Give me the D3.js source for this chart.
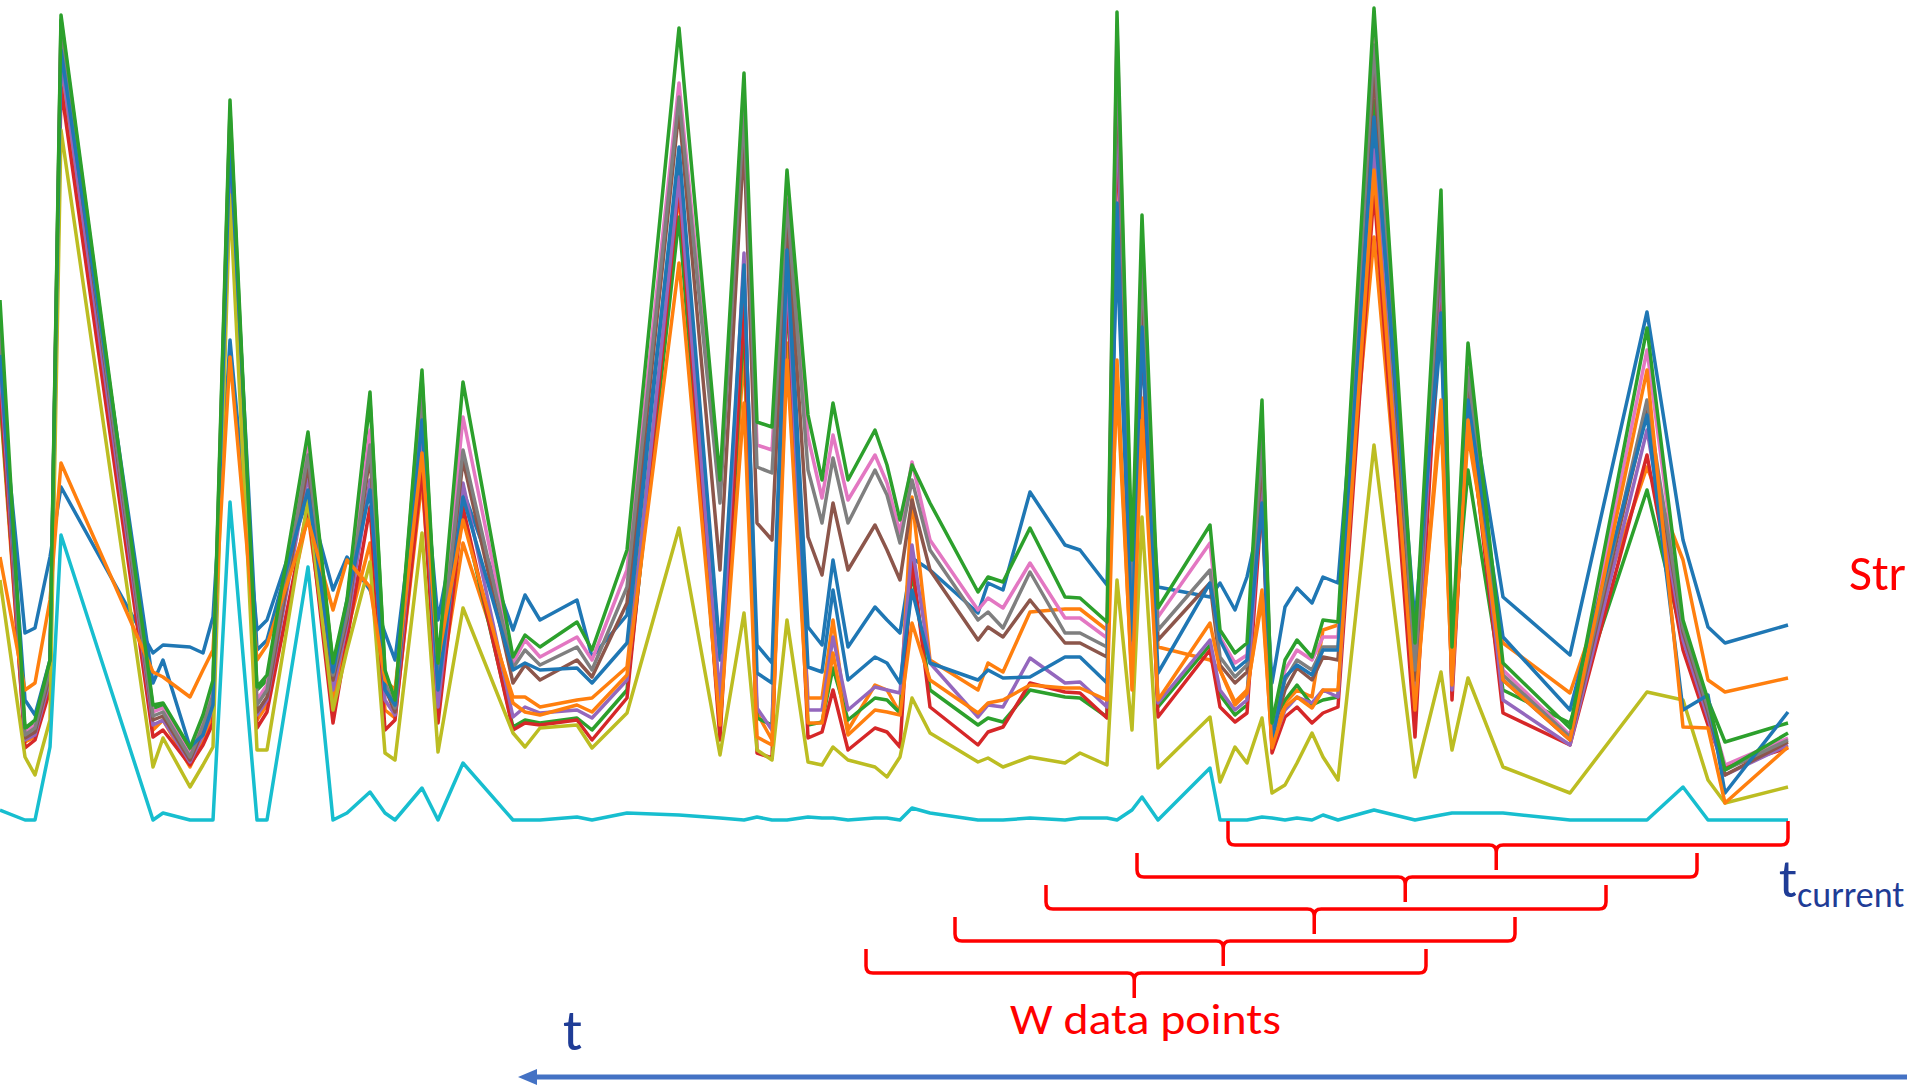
<!DOCTYPE html>
<html>
<head>
<meta charset="utf-8">
<script src="https://cdn.jsdelivr.net/npm/d3@7"></script>
<style>
  body { margin: 0; background: #fff; }
  svg { display: block; }
</style>
</head>
<body>
<div id="chart"></div>
<script>
// sample times (shared by every series)
const times = [0, 2.5, 3.5, 5.0, 6.1, 15.3, 16.3, 19.0, 20.3, 21.3, 23.0, 25.7, 26.7, 30.8, 33.3, 34.7, 37.0, 38.5, 39.5, 42.2,
  43.8, 46.3, 51.3, 52.5, 54.0, 57.7, 59.2, 62.7, 67.9, 72.0, 74.4, 75.7, 77.2, 78.7, 80.8, 82.2, 83.3, 84.8, 87.5, 88.7,
  90.0, 91.2, 93.0, 97.8, 98.8, 100.3, 103.0, 106.5, 108.0, 110.7, 111.7, 113.2, 114.2, 115.8, 121.0, 122.0, 123.5, 124.7, 126.2, 127.2,
  128.5, 129.7, 131.2, 132.3, 133.8, 137.4, 141.5, 144.1, 145.2, 146.8, 150.3, 157.0, 164.7, 168.3, 170.8, 172.5, 178.8];

const blue1 = [4.43, 1.87, 1.92, 2.63, 3.33, 1.67, 1.75, 1.73, 1.67, 2.03, 4.80, 1.90, 2.00, 3.23, 2.30, 2.63, 2.30, 1.87, 1.60, 3.80,
  2.00, 3.30, 1.90, 2.25, 2.00, 2.20, 1.63, 2.05, 6.60, 1.60, 5.40, 1.75, 1.57, 5.80, 1.93, 1.75, 2.60, 1.73, 2.13, 2.00,
  1.87, 2.62, 2.50, 2.07, 2.37, 2.30, 3.28, 2.75, 2.70, 2.35, 5.70, 1.70, 4.70, 2.33, 2.23, 2.37, 2.10, 2.43, 3.10, 1.37,
  2.13, 2.32, 2.17, 2.43, 2.37, 6.80, 1.80, 4.90, 1.60, 4.40, 2.23, 1.65, 5.08, 2.80, 1.93, 1.77, 1.95];
const orange1 = [4.20, 0.78, 0.83, 1.35, 7.43, 0.90, 1.00, 0.53, 0.80, 1.05, 6.55, 1.00, 1.15, 3.05, 1.20, 1.88, 2.77, 1.10, 1.02, 3.40,
  1.20, 2.77, 1.23, 1.23, 1.13, 1.20, 1.22, 1.53, 6.27, 1.00, 4.70, 1.07, 0.80, 4.77, 1.22, 1.22, 2.00, 0.90, 1.35, 1.30,
  1.07, 3.23, 1.60, 1.30, 1.57, 1.48, 2.08, 2.11, 2.11, 1.90, 4.33, 1.40, 4.22, 1.73, 1.60, 1.50, 1.18, 1.30, 2.20, 0.75,
  1.17, 1.30, 1.23, 1.90, 1.95, 5.83, 1.20, 4.03, 1.40, 3.85, 1.77, 1.27, 3.53, 2.60, 1.40, 1.28, 1.42];
const green1 = [4.25, 0.90, 0.98, 1.55, 8.00, 1.12, 1.14, 0.70, 1.02, 1.35, 7.10, 1.30, 1.40, 3.80, 1.55, 2.15, 4.20, 1.48, 1.18, 4.42,
  1.52, 3.07, 0.93, 1.00, 0.97, 1.02, 0.90, 1.30, 6.03, 0.90, 5.00, 1.02, 0.95, 5.30, 0.95, 0.98, 1.52, 1.00, 1.22, 1.20,
  1.07, 2.50, 1.30, 0.95, 1.02, 0.98, 1.30, 1.23, 1.22, 1.03, 7.50, 2.20, 5.70, 1.13, 1.75, 1.25, 1.05, 1.15, 4.00, 0.97,
  1.20, 1.35, 1.15, 1.20, 1.23, 7.20, 1.30, 5.90, 1.70, 3.50, 1.30, 0.97, 3.30, 1.80, 1.20, 0.78, 0.97];
const red = [4.35, 0.72, 0.80, 1.30, 7.33, 0.83, 0.90, 0.55, 0.75, 0.97, 6.45, 0.92, 1.08, 3.15, 0.97, 1.80, 3.13, 0.90, 1.00, 3.50,
  0.97, 3.13, 0.90, 0.97, 0.95, 1.00, 0.80, 1.22, 6.33, 0.80, 5.20, 0.67, 0.62, 5.40, 0.82, 0.88, 1.30, 0.70, 0.92, 0.88,
  0.73, 2.60, 1.13, 0.75, 0.88, 0.93, 1.37, 1.28, 1.27, 1.02, 7.10, 1.50, 5.00, 1.03, 1.70, 1.13, 0.98, 1.07, 3.20, 0.67,
  1.03, 1.13, 0.97, 1.07, 1.13, 6.30, 0.83, 5.40, 1.20, 4.15, 1.07, 0.75, 3.65, 1.70, 0.95, 0.53, 0.72];
const purple = [4.55, 0.80, 0.85, 1.40, 7.60, 0.95, 1.00, 0.58, 0.85, 1.12, 6.70, 1.05, 1.20, 3.45, 1.30, 1.95, 3.40, 1.20, 1.05, 3.90,
  1.13, 3.37, 1.03, 1.13, 1.07, 1.10, 1.02, 1.40, 6.43, 1.20, 5.67, 1.12, 0.90, 5.53, 1.10, 1.10, 1.83, 1.10, 1.33, 1.30,
  1.27, 2.75, 1.57, 1.03, 1.15, 1.13, 1.62, 1.37, 1.38, 1.13, 7.30, 1.70, 5.20, 1.17, 1.80, 1.30, 1.10, 1.20, 3.40, 0.75,
  1.10, 1.23, 1.17, 1.30, 1.23, 6.70, 1.20, 5.60, 1.30, 4.25, 1.20, 0.75, 3.90, 1.80, 1.02, 0.45, 0.75];
const brown = [4.75, 0.82, 0.88, 1.45, 7.80, 1.00, 1.04, 0.60, 0.90, 1.20, 6.90, 1.08, 1.23, 3.55, 1.40, 2.00, 3.65, 1.32, 1.08, 4.15,
  1.35, 3.60, 1.37, 1.55, 1.40, 1.60, 1.43, 2.17, 7.10, 2.50, 6.80, 2.97, 2.80, 6.05, 2.83, 2.45, 3.17, 2.50, 2.95, 2.70,
  2.40, 3.20, 2.50, 1.80, 1.93, 1.83, 2.20, 1.77, 1.77, 1.63, 7.65, 2.10, 5.40, 1.80, 2.37, 1.55, 1.37, 1.48, 3.65, 0.85,
  1.30, 1.52, 1.40, 1.63, 1.60, 7.50, 1.40, 5.80, 1.48, 4.35, 1.40, 0.80, 4.10, 1.88, 1.08, 0.45, 0.78];
const pink = [5.00, 0.87, 0.95, 1.55, 7.92, 1.08, 1.12, 0.65, 0.98, 1.30, 7.05, 1.20, 1.35, 3.75, 1.50, 2.10, 3.90, 1.40, 1.15, 4.35,
  1.45, 4.03, 1.57, 1.80, 1.63, 1.83, 1.60, 2.50, 7.37, 3.25, 7.20, 3.75, 3.70, 6.35, 3.83, 3.22, 3.85, 3.20, 3.65, 3.37,
  2.87, 3.58, 2.80, 2.10, 2.22, 2.12, 2.57, 2.02, 2.02, 1.82, 7.95, 2.40, 5.80, 2.03, 2.77, 1.83, 1.57, 1.65, 4.00, 0.92,
  1.50, 1.70, 1.60, 1.83, 1.83, 7.90, 1.60, 6.10, 1.65, 4.60, 1.50, 0.85, 4.70, 1.95, 1.15, 0.55, 0.82];
const gray = [4.90, 0.85, 0.92, 1.50, 7.88, 1.04, 1.08, 0.63, 0.94, 1.25, 7.00, 1.15, 1.30, 3.65, 1.45, 2.05, 3.75, 1.37, 1.12, 4.25,
  1.40, 3.70, 1.52, 1.70, 1.55, 1.73, 1.50, 2.33, 7.23, 3.17, 7.10, 3.53, 3.47, 6.20, 3.50, 2.97, 3.62, 2.97, 3.50, 3.25,
  2.77, 3.40, 2.70, 2.00, 2.08, 1.92, 2.48, 1.87, 1.87, 1.73, 7.80, 2.25, 5.60, 1.90, 2.50, 1.63, 1.43, 1.55, 3.80, 0.90,
  1.40, 1.60, 1.50, 1.73, 1.73, 7.75, 1.50, 5.95, 1.55, 4.50, 1.45, 0.83, 4.20, 1.92, 1.12, 0.50, 0.80];
const olive = [2.40, 0.63, 0.45, 1.00, 6.90, 0.53, 0.82, 0.33, 0.55, 0.73, 6.25, 0.70, 0.70, 3.20, 1.10, 1.70, 2.58, 0.67, 0.60, 2.87,
  0.68, 2.12, 0.87, 0.73, 0.92, 0.95, 0.72, 1.07, 2.92, 0.65, 2.07, 0.70, 0.60, 2.00, 0.58, 0.55, 0.73, 0.60, 0.53, 0.43,
  0.63, 1.22, 0.87, 0.58, 0.62, 0.53, 0.63, 0.57, 0.67, 0.55, 2.40, 0.90, 3.03, 0.52, 1.03, 0.38, 0.73, 0.57, 1.02, 0.27,
  0.35, 0.57, 0.87, 0.63, 0.40, 3.75, 0.43, 1.48, 0.70, 1.42, 0.53, 0.27, 1.28, 1.20, 0.40, 0.17, 0.33];
const cyan = [0.10, 0, 0, 0.73, 2.85, 0, 0.07, 0, 0, 0, 3.18, 0, 0, 2.53, 0, 0.07, 0.28, 0.07, 0, 0.32,
  0, 0.57, 0, 0, 0, 0.03, 0, 0.07, 0.05, 0.02, 0, 0.03, 0, 0, 0.03, 0.02, 0.02, 0, 0.02, 0.02,
  0, 0.12, 0.07, 0, 0, 0, 0.02, 0, 0.02, 0.02, 0, 0.10, 0.23, 0, 0.52, 0, 0, 0, 0.03, 0.02,
  0, 0.02, 0, 0.05, 0, 0.10, 0, 0.05, 0.07, 0.07, 0.07, 0, 0, 0.33, 0, 0, 0];
const blue2 = [4.65, 1.20, 1.05, 1.60, 7.70, 1.37, 1.60, 0.73, 0.85, 1.15, 6.80, 1.70, 1.80, 3.30, 1.48, 2.20, 3.30, 1.30, 1.15, 4.00,
  1.30, 3.23, 1.50, 1.57, 1.50, 1.52, 1.37, 1.77, 6.73, 1.67, 5.55, 1.47, 1.37, 5.70, 1.53, 1.48, 2.30, 1.40, 1.63, 1.57,
  1.37, 2.30, 1.57, 1.40, 1.50, 1.42, 1.43, 1.63, 1.63, 1.37, 6.17, 1.80, 4.93, 1.47, 2.37, 1.80, 1.50, 1.60, 3.17, 0.80,
  1.43, 1.55, 1.45, 1.70, 1.70, 7.03, 1.97, 5.07, 1.60, 4.20, 1.83, 1.10, 4.05, 1.10, 1.25, 0.27, 1.08];
const orange2 = [2.63, 1.30, 1.37, 2.20, 3.57, 1.48, 1.43, 1.23, 1.50, 1.70, 4.63, 1.60, 1.75, 3.00, 2.10, 2.60, 2.33, 1.40, 1.30, 3.67,
  1.60, 3.00, 1.17, 1.08, 1.05, 1.15, 1.08, 1.45, 5.57, 0.95, 4.17, 0.83, 0.75, 4.60, 0.97, 0.97, 1.67, 0.85, 1.10, 1.08,
  1.05, 1.97, 1.40, 1.07, 1.17, 1.20, 1.35, 1.32, 1.32, 1.20, 4.60, 1.30, 4.00, 1.20, 1.97, 1.50, 1.15, 1.27, 2.30, 0.72,
  1.13, 1.23, 1.12, 1.30, 1.30, 6.50, 1.10, 4.20, 1.35, 4.00, 1.40, 0.80, 4.50, 0.93, 0.92, 0.17, 0.73];
const green2 = [5.20, 0.92, 1.00, 1.60, 8.05, 1.15, 1.17, 0.72, 1.05, 1.40, 7.20, 1.33, 1.45, 3.88, 1.57, 2.20, 4.28, 1.50, 1.20, 4.50,
  1.57, 4.38, 1.63, 1.85, 1.73, 1.98, 1.70, 2.70, 7.92, 3.40, 7.47, 3.98, 3.93, 6.50, 4.05, 3.40, 4.17, 3.40, 3.90, 3.55,
  3.00, 3.55, 3.17, 2.28, 2.43, 2.38, 2.92, 2.23, 2.22, 1.98, 8.08, 2.60, 6.05, 2.12, 2.95, 1.90, 1.67, 1.77, 4.20, 0.97,
  1.60, 1.80, 1.63, 2.00, 1.98, 8.12, 1.77, 6.30, 1.73, 4.77, 1.57, 0.92, 4.92, 2.00, 1.20, 0.50, 0.87];

// plotting order follows the default colour cycle
const seriesList = [blue1, orange1, green1, red, purple, brown, pink, gray, olive, cyan, blue2, orange2, green2];

// sliding windows (end time of each window, window length in time units)
const windowEnds = [178.8, 169.7, 160.6, 151.5, 142.6];
const windowLength = 56;

const width = 1907, height = 1086;

const svg = d3.select("#chart").append("svg")
  .attr("width", width)
  .attr("height", height);

svg.append("rect").attr("width", width).attr("height", height).attr("fill", "#fff");

const x = d3.scaleLinear().domain([0, 178.8]).range([0, 1788]);
const y = d3.scaleLinear().domain([0, 8.2]).range([820, 0]);
const color = d3.scaleOrdinal(d3.schemeCategory10);

const line = d3.line()
  .x((d, i) => x(times[i]))
  .y(d => y(d));

const linesG = svg.append("g");
seriesList.forEach((vals, i) => {
  linesG.append("path")
    .datum(vals)
    .attr("d", line)
    .attr("fill", "none")
    .attr("stroke", color(i % 10))
    .attr("stroke-width", 3.5)
    .attr("stroke-linejoin", "round");
});

// window brackets
const red_ = "#ff0000";
const bG = svg.append("g")
  .attr("fill", "none")
  .attr("stroke", red_)
  .attr("stroke-width", 3.5);

windowEnds.forEach((end, i) => {
  const xl = x(end - windowLength), xr = x(end);
  const xm = xl + (xr - xl) * 0.479;
  const yt = 821 + i * 32, yh = 845 + i * 32, yb = 870 + i * 32;
  const r = 7;
  const p = d3.path();
  p.moveTo(xl, yt);
  p.lineTo(xl, yh - r);
  p.quadraticCurveTo(xl, yh, xl + r, yh);
  p.lineTo(xm - r, yh);
  p.quadraticCurveTo(xm, yh, xm, yh + r);
  p.lineTo(xm, yb);
  p.moveTo(xm, yh + r);
  p.quadraticCurveTo(xm, yh, xm + r, yh);
  p.lineTo(xr - r, yh);
  p.quadraticCurveTo(xr, yh, xr, yh - r);
  p.lineTo(xr, yt);
  bG.append("path").attr("d", p.toString());
});

const font = "Calibri, Carlito, Lato, 'Open Sans', sans-serif";

svg.append("text")
  .attr("x", 1010).attr("y", 1034)
  .attr("font-family", font).attr("font-size", 43)
  .attr("fill", red_)
  .attr("textLength", 271).attr("lengthAdjust", "spacingAndGlyphs")
  .text("W data points");

svg.append("text")
  .attr("x", 1849).attr("y", 590)
  .attr("font-family", font).attr("font-size", 50)
  .attr("fill", red_)
  .attr("textLength", 57).attr("lengthAdjust", "spacingAndGlyphs")
  .text("Str");

const darkBlue = "#1f3c96";
svg.append("text")
  .attr("x", 563).attr("y", 1050)
  .attr("font-family", font).attr("font-size", 58)
  .attr("fill", darkBlue)
  .text("t");

const tc = svg.append("text")
  .attr("x", 1779).attr("y", 897)
  .attr("font-family", font)
  .attr("fill", darkBlue);
tc.append("tspan").attr("font-size", 54).text("t");
tc.append("tspan").attr("font-size", 36).attr("dy", 10).text("current");

// time arrow
svg.append("line")
  .attr("x1", 1910).attr("x2", 532)
  .attr("y1", 1077).attr("y2", 1077)
  .attr("stroke", "#4472c4").attr("stroke-width", 5);
svg.append("path")
  .attr("d", "M518,1077 L537,1069 L537,1085 Z")
  .attr("fill", "#4472c4");
</script>
</body>
</html>
